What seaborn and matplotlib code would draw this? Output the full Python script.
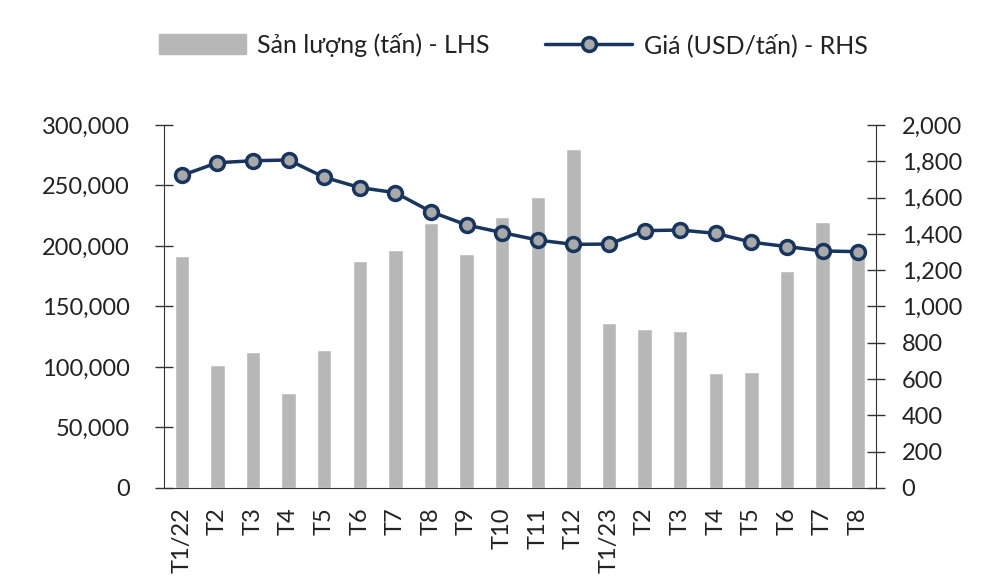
import numpy as np
import pandas as pd
import matplotlib
matplotlib.use("Agg")
import matplotlib.pyplot as plt
import seaborn as sns
from matplotlib.patches import Patch
from matplotlib.lines import Line2D

labels = ["T1/22", "T2", "T3", "T4", "T5", "T6", "T7", "T8", "T9", "T10", "T11", "T12",
          "T1/23", "T2", "T3", "T4", "T5", "T6", "T7", "T8"]
volume = [192000, 101500, 112500, 78500, 114000, 187500, 196500, 219000, 193500, 224000,
          240500, 280000, 136000, 131000, 130000, 95000, 96000, 179000, 220000, 196000]
price = [1722, 1792, 1803, 1807, 1712, 1655, 1627, 1522, 1449, 1407, 1366, 1342,
         1344, 1418, 1421, 1403, 1354, 1330, 1306, 1302]

sns.set_style("white")
plt.rcParams['font.family'] = ['Lato', 'DejaVu Sans']

df = pd.DataFrame({"idx": np.arange(len(labels)), "volume": volume, "price": price})

fig = plt.figure(figsize=(10, 5.84), dpi=100)
ax = fig.add_axes([0.164, 0.1644, 0.712, 0.6216])
bar_color = "#b7b7b7"
line_color = "#17355e"
text_color = "#222222"

sns.barplot(data=df, x="idx", y="volume", ax=ax, color=bar_color, width=0.4,
            saturation=1, native_scale=True)
ax.set_xlim(-0.5, len(labels) - 0.5)
ax.set_ylim(0, 300000)
ax.set_yticks(np.arange(0, 300001, 50000))
ax.set_yticklabels([f"{v:,}" for v in range(0, 300001, 50000)])
ax.set_xticks(np.arange(len(labels)))
ax.set_xticklabels(labels, rotation=90)
ax.set_xticks(np.arange(-0.5, len(labels), 1), minor=True)
ax.tick_params(axis='x', which='major', length=0, labelsize=17, pad=14, colors=text_color)
ax.tick_params(axis='x', which='minor', direction='in', length=7, width=1, color="#333333")
ax.tick_params(axis='y', direction='inout', length=13, width=1, labelsize=17,
               color="#333333", labelcolor=text_color, pad=18)
ax.set_xlabel("")
ax.set_ylabel("")
for s in ["top", "right"]:
    ax.spines[s].set_visible(False)
ax.spines["left"].set_color("#333333")
ax.spines["bottom"].set_color("#333333")

ax2 = ax.twinx()
sns.lineplot(data=df, x="idx", y="price", ax=ax2, color=line_color, linewidth=2.5,
             marker="o", markersize=10, markerfacecolor="#a9a9a9",
             markeredgecolor=line_color, markeredgewidth=2.5)
ax2.set_ylim(0, 2000)
ax2.set_yticks(np.arange(0, 2001, 200))
ax2.set_yticklabels([f"{v:,}" for v in range(0, 2001, 200)])
ax2.tick_params(axis='y', direction='inout', length=13, width=1, labelsize=17,
                color="#333333", labelcolor=text_color, pad=12)
ax2.set_xlabel("")
ax2.set_ylabel("")
for s in ["top", "left", "bottom"]:
    ax2.spines[s].set_visible(False)
ax2.spines["right"].set_color("#333333")
ax2.set_xlim(-0.5, len(labels) - 0.5)

handles = [Patch(facecolor=bar_color, edgecolor=bar_color),
           Line2D([0], [0], color=line_color, linewidth=2.5, marker="o", markersize=10,
                  markerfacecolor="#a9a9a9", markeredgecolor=line_color, markeredgewidth=2.5)]
fig.legend(handles, ["Sản lượng (tấn) - LHS", "Giá (USD/tấn) - RHS"],
           loc="center", bbox_to_anchor=(0.513, 0.923), ncol=2, frameon=False,
           fontsize=18, labelcolor=text_color, handlelength=3.5, handleheight=0.85,
           columnspacing=2.2, handletextpad=0.45)

fig.savefig("out.png", dpi=100)
